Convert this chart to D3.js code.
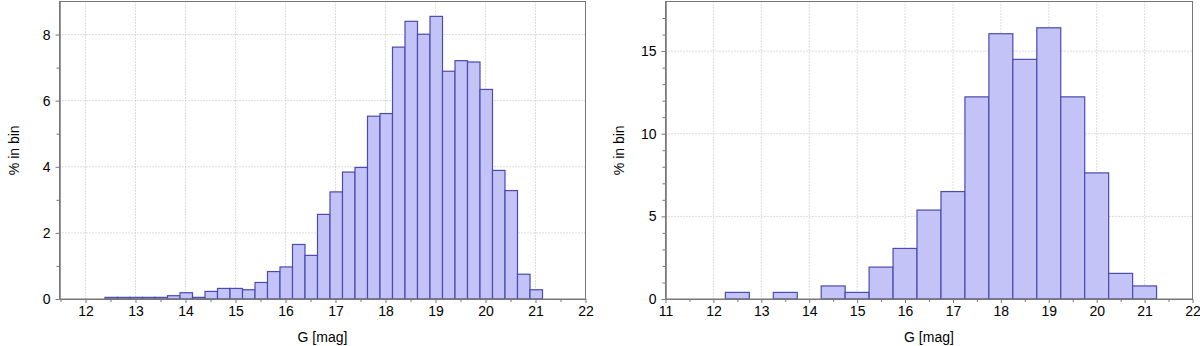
<!DOCTYPE html>
<html>
<head>
<meta charset="utf-8">
<script src="https://cdn.jsdelivr.net/npm/d3@7"></script>
<style>
  body { margin: 0; background: #fff; }
  text { font-family: "Liberation Sans", Arial, sans-serif; }
</style>
</head>
<body>
<div id="chart"></div>
<script>
const width = 1200
const height = 346

// left panel: 0.25 mag bins
const leftBinStart = [12.39, 12.64, 12.89, 13.14, 13.39, 13.64, 13.89, 14.14, 14.39, 14.64,
  14.89, 15.14, 15.39, 15.64, 15.89, 16.14, 16.39, 16.64, 16.89, 17.14,
  17.39, 17.64, 17.89, 18.14, 18.39, 18.64, 18.89, 19.14, 19.39, 19.64,
  19.89, 20.14, 20.39, 20.64, 20.89]
const leftPct = [0.05, 0.05, 0.05, 0.05, 0.05, 0.10, 0.19, 0.05, 0.23, 0.32,
  0.32, 0.28, 0.50, 0.83, 0.97, 1.65, 1.32, 2.56, 3.24, 3.84,
  3.98, 5.53, 5.61, 7.62, 8.40, 8.01, 8.55, 6.89, 7.21, 7.17,
  6.34, 3.89, 3.28, 0.75, 0.28]
const leftBinWidth = 0.25

// right panel: 0.5 mag bins
const rightBinStart = [12.25, 12.75, 13.25, 13.75, 14.25, 14.75, 15.25, 15.75, 16.25,
  16.75, 17.25, 17.75, 18.25, 18.75, 19.25, 19.75, 20.25, 20.75]
const rightPct = [0.40, 0, 0.40, 0, 0.79, 0.40, 1.93, 3.06, 5.38,
  6.50, 12.23, 16.05, 14.50, 16.41, 12.23, 7.63, 1.55, 0.79]
const rightBinWidth = 0.5

const leftXTicks = [12, 13, 14, 15, 16, 17, 18, 19, 20, 21, 22]
const leftYTicks = [0, 2, 4, 6, 8]
const rightXTicks = [11, 12, 13, 14, 15, 16, 17, 18, 19, 20, 21, 22]
const rightYTicks = [0, 5, 10, 15]

const svg = d3.select("#chart")
    .append("svg")
    .attr("width", width)
    .attr("height", height)

function drawPanel(opts) {
    const x = d3.scaleLinear().domain(opts.xDomain).range([opts.left, opts.right])
    const y = d3.scaleLinear().domain(opts.yDomain).range([opts.bottom, opts.top])
    const g = svg.append("g")

    // grid
    g.append("g").selectAll("line")
        .data(opts.xTicks.filter(d => d > opts.xDomain[0] && d < opts.xDomain[1]))
        .enter().append("line")
        .attr("x1", d => x(d)).attr("x2", d => x(d))
        .attr("y1", opts.top).attr("y2", opts.bottom)
        .attr("stroke", "#bbb").attr("stroke-dasharray", "1,2")
    g.append("g").selectAll("line")
        .data(opts.yTicks.filter(d => d > 0))
        .enter().append("line")
        .attr("x1", opts.left).attr("x2", opts.right)
        .attr("y1", d => y(d)).attr("y2", d => y(d))
        .attr("stroke", "#bbb").attr("stroke-dasharray", "1,2")

    // bars
    const bins = opts.starts.map((s, i) => ({ x0: s, x1: s + opts.binWidth, v: opts.values[i] }))
        .filter(d => d.v > 0)
    g.append("g").selectAll("rect")
        .data(bins)
        .enter().append("rect")
        .attr("x", d => x(d.x0))
        .attr("width", d => x(d.x1) - x(d.x0))
        .attr("y", d => y(d.v))
        .attr("height", d => y(0) - y(d.v))
        .attr("fill", "#c3c3f8")
        .attr("stroke", "#4a4ab0")
        .attr("stroke-width", 1.2)

    // frame
    g.append("rect")
        .attr("x", opts.left).attr("y", opts.top)
        .attr("width", opts.right - opts.left).attr("height", opts.bottom - opts.top)
        .attr("fill", "none").attr("stroke", "#777").attr("stroke-width", 1)

    // axes
    const xAxis = g.append("g")
        .attr("transform", `translate(0,${opts.bottom})`)
        .call(d3.axisBottom(x).tickValues(opts.xTicks).tickSize(4).tickSizeOuter(0).tickPadding(3))
    const xMinor = g.append("g")
        .attr("transform", `translate(0,${opts.bottom})`)
        .call(d3.axisBottom(x).tickValues(opts.xMinor).tickSize(3).tickSizeOuter(0).tickFormat(""))
    const yAxis = g.append("g")
        .attr("transform", `translate(${opts.left},0)`)
        .call(d3.axisLeft(y).tickValues(opts.yTicks).tickSize(4).tickSizeOuter(0).tickPadding(5))
    const yMinor = g.append("g")
        .attr("transform", `translate(${opts.left},0)`)
        .call(d3.axisLeft(y).tickValues(opts.yMinor).tickSize(3).tickSizeOuter(0).tickFormat(""))

    ;[xAxis, xMinor, yAxis, yMinor].forEach(a => {
        a.select(".domain").attr("stroke", "#777")
        a.selectAll(".tick line").attr("stroke", "#777")
        a.selectAll("text").attr("fill", "#000").style("font-size", "14px")
            .style("font-family", "'Liberation Sans', Arial, sans-serif")
    })

    // labels
    g.append("text")
        .attr("x", (opts.left + opts.right) / 2)
        .attr("y", 342)
        .attr("text-anchor", "middle")
        .style("font-size", "14px")
        .text("G [mag]")
    g.append("text")
        .attr("transform", `translate(${opts.yLabelX},${(opts.top + opts.bottom) / 2}) rotate(-90)`)
        .attr("text-anchor", "middle")
        .attr("dy", "0.35em")
        .style("font-size", "14px")
        .text("% in bin")
}

drawPanel({
    left: 59.5, right: 585.5, top: 1.5, bottom: 299,
    xDomain: [11.48, 22], yDomain: [0, 9],
    xTicks: leftXTicks, yTicks: leftYTicks,
    xMinor: d3.range(11.5, 22, 1), yMinor: [1, 3, 5, 7],
    starts: leftBinStart, values: leftPct, binWidth: leftBinWidth,
    yLabelX: 14
})

drawPanel({
    left: 665.5, right: 1192.5, top: 1.5, bottom: 299,
    xDomain: [11, 22], yDomain: [0, 18],
    xTicks: rightXTicks, yTicks: rightYTicks,
    xMinor: d3.range(11.5, 22, 1), yMinor: [1, 2, 3, 4, 6, 7, 8, 9, 11, 12, 13, 14, 16, 17],
    starts: rightBinStart, values: rightPct, binWidth: rightBinWidth,
    yLabelX: 619
})
</script>
</body>
</html>
